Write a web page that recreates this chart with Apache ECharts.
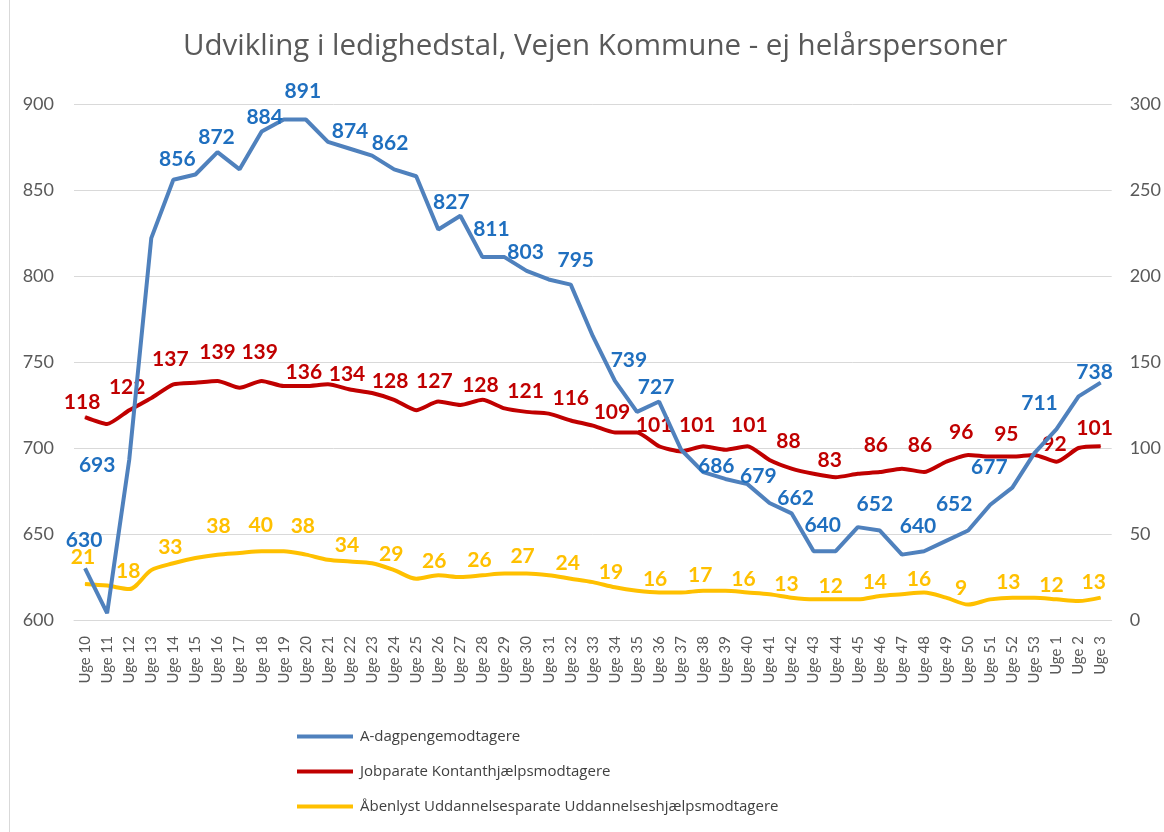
<!DOCTYPE html>
<html><head><meta charset="utf-8">
<script src="https://cdn.jsdelivr.net/npm/echarts@6/dist/echarts.min.js"></script>
<style>html,body{margin:0;padding:0;background:#fff}#c{width:1164px;height:832px}</style>
</head><body><div id="c"></div>
<script>
const categories = ["Uge 10","Uge 11","Uge 12","Uge 13","Uge 14","Uge 15","Uge 16","Uge 17","Uge 18","Uge 19","Uge 20","Uge 21","Uge 22","Uge 23","Uge 24","Uge 25","Uge 26","Uge 27","Uge 28","Uge 29","Uge 30","Uge 31","Uge 32","Uge 33","Uge 34","Uge 35","Uge 36","Uge 37","Uge 38","Uge 39","Uge 40","Uge 41","Uge 42","Uge 43","Uge 44","Uge 45","Uge 46","Uge 47","Uge 48","Uge 49","Uge 50","Uge 51","Uge 52","Uge 53","Uge 1","Uge 2","Uge 3"];
const aDagpenge = [630,604,693,822,856,859,872,862,884,891,891,878,874,870,862,858,827,835,811,811,803,798,795,765,739,721,727,699,686,682,679,668,662,640,640,654,652,638,640,646,652,667,677,697,711,730,738];
const kontant = [118,114,122,129,137,138,139,135,139,136,136,137,134,132,128,122,127,125,128,123,121,120,116,113,109,109,101,98,101,99,101,93,88,85,83,85,86,88,86,92,96,95,95,96,92,100,101];
const uddannelse = [21,20,18,29,33,36,38,39,40,40,38,35,34,33,29,24,26,25,26,27,27,26,24,22,19,17,16,16,17,17,16,15,13,12,12,12,14,15,16,13,9,12,13,13,12,11,13];
const seriesNames = ["A-dagpengemodtagere","Jobparate Kontanthjælpsmodtagere","Åbenlyst Uddannelsesparate Uddannelseshjælpsmodtagere"];
const leftTicks = {min:600,max:900,interval:50};
const rightTicks = {min:0,max:300,interval:50};

// label placement (pixel offsets from the point, keyed by category index) — layout only
const blueLabelPos = {0:[-1,-28],2:[-32,5],4:[4,-20],6:[-1,-15],8:[3,-14],10:[-3,-28],12:[0,-17],14:[-4,-26],16:[13,-27],18:[9,-28],20:[-1,-19],22:[5,-24],24:[14,-21],26:[-3,-14],28:[13,-6],30:[11,-8],32:[4,-15],34:[-13,-26],36:[-5,-26],38:[-6,-25],40:[-14,-26],42:[-23,-20],44:[-17,-26],46:[-6,-10]};
const redLabelPos = {0:[-3,-15],2:[-2,-23],4:[-3,-25],6:[0,-29],8:[-2,-29],10:[-2,-14],12:[-3,-15],14:[-4,-19],16:[-4,-20],18:[-2,-15],20:[-1,-21],22:[0,-22],24:[-3,-20],26:[-5,-21],28:[-6,-21],30:[2,-21],32:[-3,-27],34:[-6,-17],36:[-4,-27],38:[-4,-27],40:[-7,-23],42:[-6,-22],44:[-2,-18],46:[-6,-18]};
const yellowLabelPos = {0:[-2,-27],2:[-1,-18],4:[-3,-16],6:[1,-28],8:[-1,-26],10:[-3,-28],12:[-3,-16],14:[-3,-16],16:[-4,-14],18:[-3,-15],20:[-4,-17],22:[-3,-15],24:[-4,-15],26:[-4,-13],28:[-3,-16],30:[-4,-13],32:[-5,-13],34:[-5,-13],36:[-5,-14],38:[-5,-13],40:[-7,-16],42:[-4,-15],44:[-5,-14],46:[-7,-15]};

const FONT = 'Lato';
function mkData(arr, pos){
  return arr.map((v,i)=> pos[i] ? {value:v, label:{show:true, position:[pos[i][0]+0.5, pos[i][1]+0.5]}} : {value:v, label:{show:false}});
}
const labelBase = {show:true,align:'center',verticalAlign:'middle',fontFamily:FONT,fontSize:21,fontWeight:'bold'};
const chart = echarts.init(document.getElementById('c'), null, {renderer:'canvas'});
chart.setOption({
  animation:false,
  backgroundColor:'#fff',
  textStyle:{fontFamily:FONT},
  title:{text:'Udvikling i ledighedstal, Vejen Kommune - ej helårspersoner',left:178,top:27,
    textStyle:{fontFamily:'Open Sans',fontSize:29.5,fontWeight:'normal',color:'#595959'}},
  graphic:[{type:'line',shape:{x1:9.5,y1:0,x2:9.5,y2:832},style:{stroke:'#d9d9d9',lineWidth:1}}],
  grid:{left:74,right:50,top:104,bottom:212},
  legend:{orient:'vertical',left:292,top:724,itemGap:20,itemWidth:56,itemHeight:4,icon:'rect',
    textStyle:{fontFamily:'Open Sans',fontSize:15,color:'#404040',padding:[0,0,0,2]},data:seriesNames},
  xAxis:{type:'category',data:categories,boundaryGap:true,
    axisLine:{show:true,lineStyle:{color:'#d9d9d9'}},axisTick:{show:false},
    axisLabel:{rotate:90,interval:0,fontSize:15,color:'#595959',fontFamily:FONT,margin:16}},
  yAxis:[
    {type:'value',min:leftTicks.min,max:leftTicks.max,interval:leftTicks.interval,
     axisLabel:{fontSize:18,color:'#595959',fontFamily:FONT,margin:20},
     splitLine:{lineStyle:{color:'#d9d9d9',width:1}},axisLine:{show:false},axisTick:{show:false}},
    {type:'value',min:rightTicks.min,max:rightTicks.max,interval:rightTicks.interval,
     axisLabel:{fontSize:18,color:'#595959',fontFamily:FONT,margin:18},
     splitLine:{show:false},axisLine:{show:false},axisTick:{show:false}}
  ],
  series:[
    {name:seriesNames[0],type:'line',yAxisIndex:0,data:mkData(aDagpenge,blueLabelPos),
     symbol:'circle',symbolSize:1,showSymbol:true,lineStyle:{width:4,color:'#4f81bd'},itemStyle:{color:'#4f81bd'},z:3,
     label:Object.assign({},labelBase,{color:'#1f6fbf'})},
    {name:seriesNames[1],type:'line',yAxisIndex:1,data:mkData(kontant,redLabelPos),smooth:0.2,
     symbol:'circle',symbolSize:1,showSymbol:true,lineStyle:{width:4,color:'#c00000'},itemStyle:{color:'#c00000'},z:2,
     label:Object.assign({},labelBase,{color:'#c00000'})},
    {name:seriesNames[2],type:'line',yAxisIndex:1,data:mkData(uddannelse,yellowLabelPos),smooth:0.3,
     symbol:'circle',symbolSize:1,showSymbol:true,lineStyle:{width:4,color:'#ffc000'},itemStyle:{color:'#ffc000'},z:1,
     label:Object.assign({},labelBase,{color:'#ffc000'})}
  ]
});
</script></body></html>
